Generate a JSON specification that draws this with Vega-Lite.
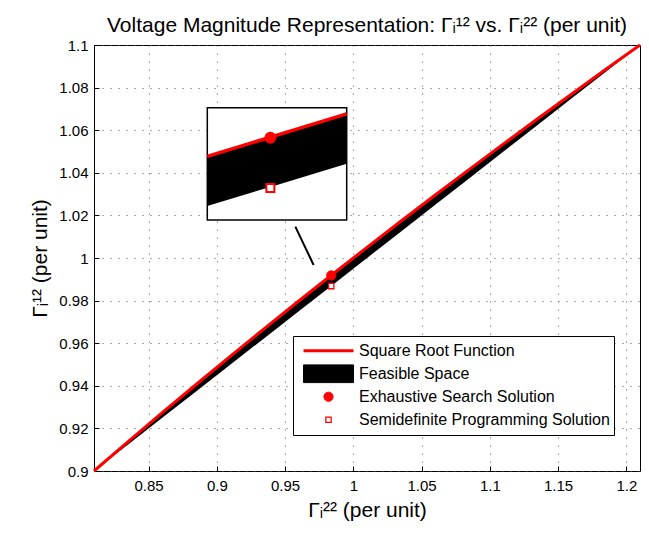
{
  "$schema": "https://vega.github.io/schema/vega-lite/v6.json",
  "width": 546,
  "height": 426,
  "autosize": {"type": "none"},
  "padding": {"left": 94, "top": 45, "right": 9, "bottom": 65},
  "background": "white",
  "title": {
    "text": "Voltage Magnitude Representation: Γᵢ¹² vs. Γᵢ²² (per unit)",
    "font": "Liberation Sans",
    "fontSize": 21,
    "fontWeight": "normal",
    "color": "black",
    "offset": 2
  },
  "config": {
    "font": "Liberation Sans",
    "view": {"stroke": "black", "strokeWidth": 1},
    "axis": {
      "domain": false,
      "grid": true,
      "gridColor": "#555555",
      "gridDash": [1, 7],
      "gridWidth": 1,
      "ticks": true,
      "tickSize": -5,
      "tickColor": "black",
      "labelFont": "Liberation Sans",
      "labelFontSize": 15,
      "labelColor": "black",
      "titleFont": "Liberation Sans",
      "titleFontSize": 21,
      "titleFontWeight": "normal",
      "titleColor": "black"
    },
    "legend": {
      "orient": "none",
      "legendX": 199,
      "legendY": 291,
      "strokeColor": "black",
      "fillColor": "white",
      "padding": 4,
      "columns": 1,
      "symbolSize": 400,
      "symbolOffset": 20,
      "labelOffset": 19,
      "clipHeight": 21.5,
      "labelFont": "Liberation Sans",
      "labelFontSize": 16,
      "labelColor": "black",
      "labelLimit": 400,
      "rowPadding": 1
    }
  },
  "datasets": {
    "curve": [
      {"x": 0.81, "sqrt": 0.9, "lower": 0.9},
      {"x": 0.835, "sqrt": 0.91378, "lower": 0.9125},
      {"x": 0.86, "sqrt": 0.92736, "lower": 0.925},
      {"x": 0.885, "sqrt": 0.94074, "lower": 0.9375},
      {"x": 0.91, "sqrt": 0.95394, "lower": 0.95},
      {"x": 0.935, "sqrt": 0.96695, "lower": 0.9625},
      {"x": 0.96, "sqrt": 0.9798, "lower": 0.975},
      {"x": 0.985, "sqrt": 0.99247, "lower": 0.9875},
      {"x": 1.01, "sqrt": 1.00499, "lower": 1.0},
      {"x": 1.035, "sqrt": 1.01735, "lower": 1.0125},
      {"x": 1.06, "sqrt": 1.02956, "lower": 1.025},
      {"x": 1.085, "sqrt": 1.04163, "lower": 1.0375},
      {"x": 1.11, "sqrt": 1.05357, "lower": 1.05},
      {"x": 1.135, "sqrt": 1.06536, "lower": 1.0625},
      {"x": 1.16, "sqrt": 1.07703, "lower": 1.075},
      {"x": 1.185, "sqrt": 1.08858, "lower": 1.0875},
      {"x": 1.21, "sqrt": 1.1, "lower": 1.1}
    ],
    "inset": [
      {"x": 0.98, "sqrt": 0.98995, "lower": 0.985},
      {"x": 0.9842, "sqrt": 0.99207, "lower": 0.9871},
      {"x": 0.9884, "sqrt": 0.99418, "lower": 0.9892}
    ],
    "points": [
      {"x": 0.9838, "y": 0.9918, "series": "Exhaustive Search Solution"},
      {"x": 0.9838, "y": 0.9868, "series": "Semidefinite Programming Solution"}
    ],
    "connector": [
      {"x": 0.9575, "y": 1.0147, "x2": 0.9709, "y2": 0.9967}
    ],
    "box": [
      {"x": 0.98, "x2": 0.9884, "y": 0.9836, "y2": 0.9948}
    ]
  },
  "resolve": {"scale": {"x": "independent", "y": "independent"}},
  "layer": [
    {
      "encoding": {
        "x": {
          "field": "x",
          "type": "quantitative",
          "scale": {"domain": [0.81, 1.21], "nice": false, "zero": false},
          "axis": {
            "values": [0.85, 0.9, 0.95, 1, 1.05, 1.1, 1.15, 1.2],
            "format": "~g",
            "labelPadding": 12,
            "title": "Γᵢ²² (per unit)",
            "titlePadding": 6
          }
        },
        "y": {
          "field": "sqrt",
          "type": "quantitative",
          "scale": {"domain": [0.9, 1.1], "nice": false, "zero": false},
          "axis": {
            "values": [0.9, 0.92, 0.94, 0.96, 0.98, 1, 1.02, 1.04, 1.06, 1.08, 1.1],
            "format": "~g",
            "labelPadding": 11,
            "title": "Γᵢ¹² (per unit)",
            "titlePadding": 8
          }
        }
      },
      "layer": [
        {
          "data": {"name": "curve"},
          "mark": {"type": "area", "color": "black", "opacity": 1},
          "encoding": {"y2": {"field": "lower"}}
        },
        {
          "data": {"name": "curve"},
          "mark": {"type": "line", "color": "#ff0000", "strokeWidth": 3}
        },
        {
          "data": {"name": "connector"},
          "mark": {"type": "rule", "color": "black", "strokeWidth": 2},
          "encoding": {
            "y": {"field": "y", "type": "quantitative"},
            "x2": {"field": "x2"},
            "y2": {"field": "y2"}
          }
        },
        {
          "data": {"name": "points"},
          "mark": {"type": "point", "opacity": 1},
          "encoding": {
            "y": {"field": "y", "type": "quantitative"},
            "shape": {
              "field": "series",
              "type": "nominal",
              "scale": {
                "domain": ["Square Root Function", "Feasible Space", "Exhaustive Search Solution", "Semidefinite Programming Solution"],
                "range": ["M-2.5,0H2.5", "M-2.5,-0.885H2.5V0.885H-2.5Z", "circle", "square"]
              },
              "legend": {"title": null}
            },
            "fill": {
              "field": "series",
              "type": "nominal",
              "scale": {
                "domain": ["Square Root Function", "Feasible Space", "Exhaustive Search Solution", "Semidefinite Programming Solution"],
                "range": ["transparent", "black", "#ff0000", "white"]
              },
              "legend": {"title": null}
            },
            "stroke": {
              "field": "series",
              "type": "nominal",
              "scale": {
                "domain": ["Square Root Function", "Feasible Space", "Exhaustive Search Solution", "Semidefinite Programming Solution"],
                "range": ["#ff0000", "black", "#ff0000", "#ff0000"]
              },
              "legend": {"title": null}
            },
            "size": {
              "field": "series",
              "type": "nominal",
              "scale": {
                "type": "ordinal",
                "domain": ["Square Root Function", "Feasible Space", "Exhaustive Search Solution", "Semidefinite Programming Solution"],
                "range": [400, 400, 85, 28]
              },
              "legend": {"title": null}
            },
            "strokeWidth": {
              "field": "series",
              "type": "nominal",
              "scale": {
                "type": "ordinal",
                "domain": ["Square Root Function", "Feasible Space", "Exhaustive Search Solution", "Semidefinite Programming Solution"],
                "range": [3, 1, 1, 1.3]
              },
              "legend": {"title": null}
            }
          }
        }
      ]
    },
    {
      "encoding": {
        "x": {
          "field": "x",
          "type": "quantitative",
          "scale": {"domain": [0.98, 0.9884], "range": [113.3, 252.7], "nice": false, "zero": false},
          "axis": null
        },
        "y": {
          "field": "sqrt",
          "type": "quantitative",
          "scale": {"domain": [0.9836, 0.9948], "range": [175, 62.7], "nice": false, "zero": false},
          "axis": null
        }
      },
      "layer": [
        {
          "data": {"name": "box"},
          "mark": {"type": "rect", "fill": "white", "stroke": "black", "strokeWidth": 1.5},
          "encoding": {
            "y": {"field": "y", "type": "quantitative"},
            "x2": {"field": "x2"},
            "y2": {"field": "y2"}
          }
        },
        {
          "data": {"name": "inset"},
          "mark": {"type": "area", "color": "black", "opacity": 1},
          "encoding": {"y2": {"field": "lower"}}
        },
        {
          "data": {"name": "inset"},
          "mark": {"type": "line", "color": "#ff0000", "strokeWidth": 3.5}
        },
        {
          "data": {"name": "points"},
          "transform": [{"filter": "datum.series === 'Exhaustive Search Solution'"}],
          "mark": {"type": "point", "shape": "circle", "filled": true, "color": "#ff0000", "opacity": 1, "size": 140},
          "encoding": {"y": {"field": "y", "type": "quantitative"}}
        },
        {
          "data": {"name": "points"},
          "transform": [{"filter": "datum.series === 'Semidefinite Programming Solution'"}],
          "mark": {"type": "point", "shape": "square", "fill": "white", "stroke": "#ff0000", "strokeWidth": 2, "opacity": 1, "size": 64},
          "encoding": {"y": {"field": "y", "type": "quantitative"}}
        }
      ]
    }
  ]
}
